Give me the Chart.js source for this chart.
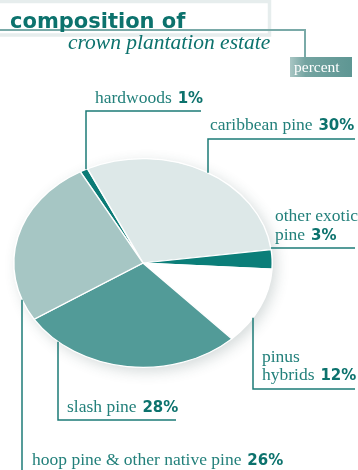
<!DOCTYPE html>
<html>
<head>
<meta charset="utf-8">
<script src="https://cdn.jsdelivr.net/npm/chart.js@4.4.0/dist/chart.umd.min.js"></script>
<style>
  html, body { margin: 0; padding: 0; background: #ffffff; }
  #wrap { position: relative; width: 358px; height: 470px; }
</style>
</head>
<body>
<div id="wrap"><canvas id="estate" width="358" height="470"></canvas></div>
<script>
// Crown plantation estate, share of area by type (percent)
const categories = ['hardwoods', 'caribbean pine', 'other exotic pine', 'pinus hybrids', 'slash pine', 'hoop pine & other native pine'];
const shares = [1, 30, 3, 12, 28, 26];
const sliceColours = ['#0b7b76', '#dde8e8', '#0b7e79', '#ffffff', '#529b98', '#a6c6c4'];
// text shown beside each slice, one entry per line; the figure follows the last line
const labelLines = [['hardwoods'], ['caribbean pine'], ['other exotic', 'pine'], ['pinus', 'hybrids'], ['slash pine'], ['hoop pine & other native pine']];

// ---------------------------------------------------------------------------
// layout: leader lines and label placement (vertical x, elbow y, end x)
const LEADERS = [
  { x: 86,   elbowY: 111,  endX: 201, textX: 95,  textY: [103] },
  { x: 208,  elbowY: 139,  endX: 355, textX: 210, textY: [130] },
  { x: null, elbowY: 248,  endX: 355, textX: 275, textY: [221, 240] },
  { x: 253,  elbowY: 389,  endX: 355, textX: 262, textY: [362, 380] },
  { x: 58,   elbowY: 420,  endX: 176, textX: 67,  textY: [412] },
  { x: 22,   elbowY: null, endX: null, textX: 32, textY: [465] }
];

const TEAL = '#0c726d';
const LABEL_TEAL = '#23807b';
const LINE_TEAL = '#1d7b77';
const SQUASH = 105 / 130;   // vertical flattening of the disc

const SERIF = '"Liberation Serif", "DejaVu Serif", serif';
const HEAVY = '"DejaVu Sans", sans-serif';

function pieGeometry(chart) {
  const arc = chart.getDatasetMeta(0).data[0];
  return { cx: arc.x, cy: arc.y, rx: arc.outerRadius, ry: arc.outerRadius * SQUASH };
}

// points on the rim of the flattened disc
function rimY(g, x, dir) {
  const t = (x - g.cx) / g.rx;
  return g.cy + dir * g.ry * Math.sqrt(Math.max(0, 1 - t * t));
}
function rimX(g, y) {
  const t = (y - g.cy) / g.ry;
  return g.cx + g.rx * Math.sqrt(Math.max(0, 1 - t * t));
}

const flattenPie = {
  id: 'flattenPie',
  beforeDatasetsDraw(chart) {
    const ctx = chart.ctx;
    const arc = chart.getDatasetMeta(0).data[0];
    const { x, y, outerRadius } = arc;
    ctx.save();
    ctx.translate(x, y);
    ctx.scale(1, SQUASH);
    ctx.translate(-x, -y);
    // soft shadow under the disc
    ctx.save();
    ctx.shadowColor = 'rgba(40, 70, 70, 0.2)';
    ctx.shadowBlur = 14;
    ctx.shadowOffsetX = 4;
    ctx.shadowOffsetY = 4;
    ctx.beginPath();
    ctx.arc(x, y, outerRadius, 0, Math.PI * 2);
    ctx.fillStyle = '#ffffff';
    ctx.fill();
    ctx.restore();
  },
  afterDatasetsDraw(chart) {
    chart.ctx.restore();
  }
};

const decorations = {
  id: 'decorations',
  afterDraw(chart) {
    const ctx = chart.ctx;
    const g = pieGeometry(chart);
    ctx.save();

    // heading frame
    ctx.strokeStyle = '#e6eded';
    ctx.lineWidth = 3.5;
    ctx.strokeRect(-10, 1.5, 279.5, 33.5);

    ctx.strokeStyle = '#7aaaa8';
    ctx.lineWidth = 2;
    ctx.beginPath();
    ctx.moveTo(0, 30);
    ctx.lineTo(305, 30);
    ctx.lineTo(305, 57);
    ctx.stroke();

    ctx.fillStyle = TEAL;
    ctx.textBaseline = 'alphabetic';
    ctx.font = '700 21px ' + HEAVY;
    ctx.fillText('composition of', 10, 28);
    ctx.font = 'italic 21.5px ' + SERIF;
    ctx.fillText('crown plantation estate', 68, 49);

    // unit tag
    const grad = ctx.createLinearGradient(290, 0, 352, 0);
    grad.addColorStop(0, '#a9c6c4');
    grad.addColorStop(0.25, '#74a4a1');
    grad.addColorStop(1, '#5e9693');
    ctx.fillStyle = grad;
    ctx.fillRect(290, 57, 62, 20);
    ctx.fillStyle = '#ffffff';
    ctx.font = '15.5px ' + SERIF;
    ctx.fillText('percent', 294, 72);

    // leader lines
    ctx.strokeStyle = LINE_TEAL;
    ctx.lineWidth = 1.5;
    LEADERS.forEach(l => {
      ctx.beginPath();
      if (l.x === null) {
        ctx.moveTo(rimX(g, l.elbowY), l.elbowY);
        ctx.lineTo(l.endX, l.elbowY);
      } else {
        const bottom = l.elbowY === null ? chart.height : l.elbowY;
        const dir = bottom < g.cy ? -1 : 1;
        ctx.moveTo(l.x, rimY(g, l.x, dir));
        ctx.lineTo(l.x, bottom);
        if (l.endX !== null) ctx.lineTo(l.endX, l.elbowY);
      }
      ctx.stroke();
    });

    // labels with bold figures
    LEADERS.forEach((l, i) => {
      const lines = labelLines[i];
      lines.forEach((txt, j) => {
        ctx.font = '17.5px ' + SERIF;
        ctx.fillStyle = LABEL_TEAL;
        ctx.fillText(txt, l.textX, l.textY[j]);
        if (j === lines.length - 1) {
          const w = ctx.measureText(txt + ' ').width;
          ctx.font = '700 15px ' + HEAVY;
          ctx.fillStyle = TEAL;
          ctx.fillText(shares[i] + '%', l.textX + w + 1.5, l.textY[j]);
        }
      });
    });

    ctx.restore();
  }
};

new Chart(document.getElementById('estate').getContext('2d'), {
  type: 'pie',
  data: {
    labels: categories,
    datasets: [{
      data: shares,
      backgroundColor: sliceColours,
      borderColor: '#ffffff',
      borderWidth: 1.5,
      clip: false
    }]
  },
  options: {
    responsive: false,
    animation: false,
    events: [],
    rotation: -29,
    layout: { padding: { left: 13, right: 85, top: 133, bottom: 77 } },
    plugins: {
      legend: { display: false },
      tooltip: { enabled: false }
    }
  },
  plugins: [flattenPie, decorations]
});
</script>
</body>
</html>
